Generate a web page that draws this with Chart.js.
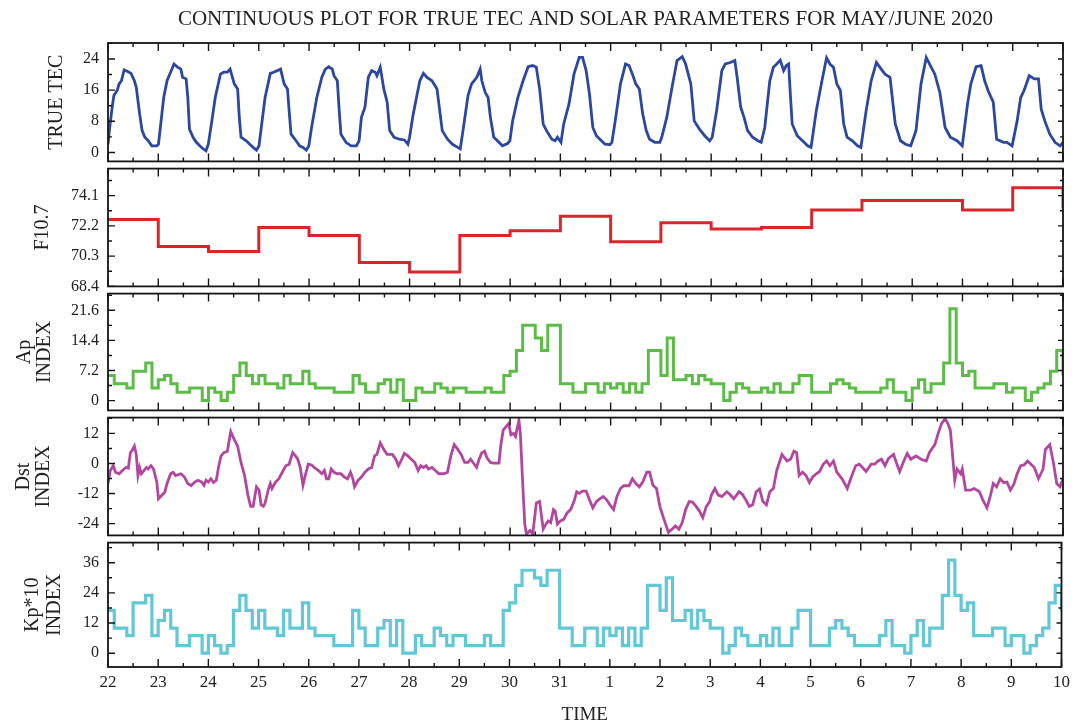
<!DOCTYPE html>
<html lang="en">
<head>
    <meta charset="UTF-8">
    <title>Continuous plot for TRUE TEC and solar parameters, May/June 2020</title>
    <!-- Chart.js -->
    <script src="https://cdn.jsdelivr.net/npm/chart.js"></script>
    <style>
        body {
            margin: 0;
            background: #fff;
        }

        /* five stacked panels, one canvas each, sharing the same time axis */
        .plot {
            position: relative;
            width: 1075px;
            height: 726px;
        }

        .plot canvas {
            position: absolute;
            left: 0;
        }
    </style>
</head>
<body>

<div class="plot">
    <canvas id="tecChart" width="1075" height="180" style="top:0"></canvas>
    <canvas id="f107Chart" width="1075" height="155" style="top:150px"></canvas>
    <canvas id="apChart" width="1075" height="154" style="top:275px"></canvas>
    <canvas id="dstChart" width="1075" height="155" style="top:399px"></canvas>
    <canvas id="kpChart" width="1075" height="202" style="top:524px"></canvas>
</div>

<script>
    // ---- data (time in hours since 22 May 00:00) ----
    const dayLabels = ['22', '23', '24', '25', '26', '27', '28', '29', '30', '31',
        '1', '2', '3', '4', '5', '6', '7', '8', '9', '10'];

    const tecHours = [
        0, 0.8, 2, 2.8, 4.4, 5.3, 6.4, 7.7, 9.4, 11, 12.6, 13.5, 14.3, 15.1, 16.3, 17.6, 19.2, 20.9, 23.3,
        24.1, 25, 26.6, 28.2, 29.9, 31.5, 33.2, 34.8, 35.6, 37.3, 38.1, 38.9, 40.6, 42.2, 43.8, 45.5, 46.8,
        47.9, 49.6, 51.2, 53.7, 55.3, 57, 58.3, 60.3, 61.9, 62.7, 63.5, 66, 67.7, 69.3, 70.9,
        72.1, 73.4, 75, 77.5, 79.1, 80.8, 82.4, 84.1, 85.7, 86.5, 87.4, 89.8, 91.5, 93.1, 94.7,
        95.9, 97.2, 99.7, 102.1, 103.8, 105.4, 107.1, 107.9, 109.5, 110.3, 111.2, 113.6, 116.1, 118.6,
        119.9, 121, 122.7, 124.3, 125.9, 127.6, 128.4, 130, 131.7, 133.3, 134.5, 136.6, 139.1, 141.5, 143.2,
        144, 145.6, 147.3, 148.9, 150.6, 152.2, 154.7, 157.1, 158.8, 159.6, 162.1, 164.5, 167,
        168.2, 169.5, 171.9, 173.6, 176.1, 177.7, 178.5, 180.1, 181.5, 182.6, 184.2, 186.7, 188.3, 190.8,
        191.9, 193.2, 195.7, 198.2, 200.6, 202.8, 204.5, 206.1, 207.8, 209.4, 211.9, 213.5, 214.6,
        216.3, 217.6, 220.1, 222.5, 225, 226.6, 228.3, 229.9, 231.5, 233.2, 235.6, 237.3, 239.7,
        240.6, 242.2, 244.7, 247.1, 248.8, 250.4, 252, 253.7, 255.3, 257, 258.6, 261.1, 263.5,
        264.4, 266.8, 269.3, 271.7, 274.2, 275.8, 278.3, 279.9, 282.4, 284.9, 287.3,
        288.5, 290.6, 293.1, 294.7, 297.2, 299.3, 300.4, 302.1, 303.7, 305.4, 307.8, 310.3, 311.9,
        313.6, 316, 317.7, 319.3, 321, 322.6, 323.9, 325, 325.9, 326.7, 329.1, 331.6, 334.1, 335.7,
        338.2, 340.6, 343.1, 344.7, 346.4, 348, 349.7, 351.3, 352.9, 355.4, 357.9, 359.5,
        362, 364.4, 366.9, 368.5, 371, 373.4, 375.9, 378.4, 380.8, 383.3,
        385.8, 388.2, 390.7, 392.3, 394.8, 397.2, 399.7, 402.2, 405.4, 407.9,
        410.4, 412, 414.5, 416.9, 418.6, 420.2, 422.7, 424.3, 427.6, 429.2, 431.7,
        434.1, 435.8, 437.4, 439.9, 442.3, 444.3, 445.6, 447.3, 449.7, 452.2, 454.6, 456
    ];
    const tecValues = [
        2.1, 6.4, 11.6, 14.6, 15.9, 17.6, 18.4, 21.2, 20.8, 20.3, 18.4, 16.7, 13.3, 9.9, 5.6, 3.9, 3.0, 1.7, 1.7,
        2.1, 6.4, 14.1, 18.4, 20.6, 22.7, 21.9, 21.4, 19.3, 18.9, 14.1, 6.0, 3.9, 2.6, 1.7, 0.9, 0.4,
        2.1, 8.1, 14.1, 20.1, 20.6, 20.6, 21.4, 17.6, 16.3, 9.0, 3.9, 3.0, 2.1, 1.3, 0.6,
        1.7, 7.3, 14.1, 20.3, 20.6, 21.0, 21.4, 17.6, 16.3, 10.7, 4.7, 3.0, 1.7, 1.3, 0.6,
        1.7, 6.4, 14.1, 19.3, 21.4, 22.0, 21.4, 19.7, 18.4, 11.6, 4.7, 2.6, 1.7, 1.7,
        3.0, 9.0, 11.6, 19.3, 21.0, 20.6, 19.7, 21.9, 16.3, 12.9, 5.6, 3.9, 3.4, 3.2, 2.1,
        3.9, 9.4, 14.1, 18.4, 20.3, 19.3, 18.4, 16.3, 9.0, 5.6, 3.4, 2.1, 1.3,
        0.9, 5.6, 14.6, 17.6, 19.3, 21.4, 18.4, 15.4, 14.1, 9.0, 3.9, 2.6, 1.7, 2.3,
        3.0, 8.1, 14.1, 18.4, 22.0, 22.3, 21.9, 16.3, 7.3, 5.6, 3.4, 3.0, 3.9,
        2.6, 7.3, 12.4, 20.1, 24.4, 24.4, 21.0, 15.0, 6.4, 4.3, 3.0, 2.1, 2.0,
        2.6, 8.1, 17.6, 22.7, 22.3, 20.1, 17.6, 16.3, 9.9, 5.6, 3.4, 2.6, 2.6,
        3.9, 9.0, 16.7, 23.6, 24.6, 22.7, 17.6, 8.1, 6.0, 4.3, 3.0,
        3.9, 10.7, 21.0, 22.7, 23.1, 23.6, 19.3, 11.6, 9.0, 5.6, 3.9, 3.0, 2.6,
        6.4, 18.4, 21.9, 22.7, 23.7, 21.0, 22.3, 22.7, 14.1, 7.3, 4.3, 3.0, 1.7, 1.3,
        10.7, 17.6, 24.3, 22.7, 21.9, 17.6, 15.9, 7.3, 3.9, 3.0, 1.7, 1.3,
        10.7, 18.4, 23.1, 21.9, 20.1, 19.3, 7.3, 3.0, 2.1, 1.7,
        5.6, 17.6, 24.4, 22.7, 20.1, 15.4, 6.4, 3.9, 3.0, 1.7,
        12.4, 17.6, 22.0, 22.3, 18.4, 15.9, 12.9, 3.4, 2.6, 2.6, 1.7,
        8.1, 14.1, 15.9, 19.7, 18.9, 18.9, 11.1, 8.1, 4.7, 2.6, 1.7, 2.6
    ];

    // F10.7: one value per day, plus the value reached at the right edge
    const f107Daily = [72.6, 70.9, 70.6, 72.1, 71.6, 69.9, 69.3, 71.6, 71.9, 72.8,
        71.2, 72.4, 72.0, 72.1, 73.2, 73.8, 73.8, 73.2, 74.6];
    const f107End = 73.3;

    // Ap and Kp*10: 3-hourly values (8 per day), plus the value at the right edge
    const apValues = [
        6, 4, 4, 3, 7, 7, 9, 3,
        5, 6, 4, 2, 2, 3, 3, 0,
        3, 2, 0, 2, 6, 9, 6, 4,
        6, 4, 4, 3, 6, 4, 4, 7,
        4, 3, 3, 3, 2, 2, 2, 6,
        4, 2, 2, 4, 5, 2, 5, 0,
        0, 3, 2, 2, 4, 3, 2, 3,
        3, 2, 2, 2, 3, 2, 2, 6,
        7, 12, 18, 18, 15, 12, 18, 18,
        4, 4, 2, 2, 4, 4, 2, 4,
        3, 4, 2, 4, 2, 4, 12, 12,
        6, 15, 5, 5, 6, 4, 6, 5,
        4, 4, 0, 2, 4, 3, 2, 2,
        3, 2, 4, 2, 2, 4, 6, 6,
        2, 2, 2, 4, 5, 4, 3, 2,
        2, 2, 2, 3, 5, 2, 2, 0,
        3, 5, 2, 4, 4, 9, 22, 9,
        6, 7, 3, 3, 3, 4, 4, 2,
        3, 3, 0, 2, 3, 4, 7, 12
    ];
    const apEnd = 6;

    const kpValues = [
        17, 10, 10, 7, 20, 20, 23, 7,
        13, 17, 10, 3, 3, 7, 7, 0,
        7, 3, 0, 3, 17, 23, 17, 10,
        17, 10, 10, 7, 17, 10, 10, 20,
        10, 7, 7, 7, 3, 3, 3, 17,
        10, 3, 3, 10, 13, 3, 13, 0,
        0, 7, 3, 3, 10, 7, 3, 7,
        7, 3, 3, 3, 7, 3, 3, 17,
        20, 27, 33, 33, 30, 27, 33, 33,
        10, 10, 3, 3, 10, 10, 3, 10,
        7, 10, 3, 10, 3, 10, 27, 27,
        17, 30, 13, 13, 17, 10, 17, 13,
        10, 10, 0, 3, 10, 7, 3, 3,
        7, 3, 10, 3, 3, 10, 17, 17,
        3, 3, 3, 10, 13, 10, 7, 3,
        3, 3, 3, 7, 13, 3, 3, 0,
        7, 13, 3, 10, 10, 23, 37, 23,
        17, 20, 7, 7, 7, 10, 10, 3,
        7, 7, 0, 3, 7, 10, 20, 27
    ];
    const kpEnd = 17;

    const dstHours = [
        0, 1.1, 2.5, 3.6, 5.3, 6.9, 8.5, 9.7, 10.7, 11.8, 12.6, 13.5, 14.3, 15.1, 15.9, 17.2, 18.4, 19.2, 20.5, 21.7, 22.5, 23.3,
        24.1, 25.8, 27.1, 28.2, 29.9, 31, 32.3, 34.8, 36.5, 38.1, 39.7, 41.4, 43, 44.7, 45.8, 46.8,
        47.9, 49.1, 50.4, 51.7, 52.9, 54, 55.3, 57, 58.6, 60.3, 61.9, 63.5, 65.2, 66.8, 68.1, 69.3, 70.9,
        72.1, 73.1, 74.2, 75, 76.7, 77.5, 78.3, 80, 81.6, 83.2, 84.9, 86.5, 87.4, 88.2, 89.5, 90.6, 91.8, 93.1, 94.4,
        95.6, 97.2, 98.9, 100.5, 102.1, 103.3, 104.3, 105.4, 106.6, 107.9, 109.5, 111.2, 112.8, 114.4, 115.8, 116.9, 117.7, 119.4,
        121, 122.7, 124.3, 125.9, 127.3, 128.4, 130, 131.7, 133.3, 135.8, 137.4, 138.7, 139.9, 141.5, 143.2,
        144.8, 146.5, 148.1, 149.3, 150.6, 151.9, 153, 154.7, 156.3, 158, 160.4, 162.1, 163.7, 165.3, 167,
        168.6, 170.3, 171.9, 173.2, 174.9, 176, 177.2, 178.5, 179.8, 180.9, 182.6, 184.2, 186.7, 187.5, 188.7, 190,
        191.3, 192.4, 193.6, 194.6, 195.2, 196.2, 196.9, 197.9, 199, 199.8, 201.5, 202.8, 203.9,
        204.5, 206.1, 207.8, 209.1, 210.2, 211.4, 212.7, 213.5, 214.6,
        216, 217.6, 219.2, 220.9, 222.5, 223.8, 225, 226.6, 228.3, 229.9, 231.5, 233.2, 234.8, 236.5, 238.1, 239.7,
        241.4, 243, 244.7, 246.3, 248.8, 250.4, 252, 253.7, 255.3, 257.3, 258.6, 260.2, 261.9, 263.5,
        265.2, 267.6, 269.3, 270.9, 272.6, 274.2, 275.8, 277.5, 279.1, 280.8, 282.4, 284, 285.7, 287.3,
        288.1, 289.8, 291.4, 293.1, 295.5, 297.2, 298.8, 301.3, 302.9, 304.5, 306.2, 307.8, 309.5, 311.1,
        312.7, 314.4, 316, 317.7, 319.3, 321.8, 324.2, 325.9, 327.5, 328.8, 330, 331.6, 333.3, 334.9,
        336.5, 338.2, 339.8, 341.5, 343.1, 344.7, 346.4, 348, 350.5, 353, 354.6, 357, 358.7,
        360.3, 362, 364.4, 366.1, 367.7, 369.3, 371, 372.6, 375.1, 376.4, 378, 380, 381.6, 383.3,
        385.8, 388.2, 390.7, 392.3, 394.8, 396.4, 398, 399.7, 401, 402.2, 403.3, 404.3, 405.4, 407.1, 407.9,
        409.5, 412, 413.6, 416.1, 417.7, 419.7, 421.4, 422.7, 424.3, 426, 427.6, 429.2, 430.9,
        432.5, 434.1, 435.8, 437.4, 439.1, 440.7, 442.3, 444.3, 446.5, 447.6, 449.7, 451.4, 453, 454.6, 456
    ];
    const dstValues = [
        -8.0, -2.8, -0.9, -3.5, -4.1, -2.8, -1.6, -1.9, 4.3, 5.6, 6.9, 3.6, -4.8, -1.6, -4.1, -2.8, -1.6, -2.2, -0.9, -2.2, -4.8, -7.4,
        -14.1, -12.6, -11.5, -8.0, -4.1, -3.5, -4.8, -4.1, -5.4, -8.0, -8.9, -7.4, -6.7, -7.4, -8.7, -6.7,
        -7.4, -6.1, -7.6, -6.7, -0.9, 3.0, 4.3, 4.9, 12.7, 9.5, 6.9, 0.4, -4.8, -12.6, -17.1, -17.1, -9.3,
        -10.6, -16.5, -17.1, -15.8, -10.0, -8.0, -10.0, -7.4, -6.1, -3.5, -0.9, -0.3, 2.3, 4.3, 3.0, 1.7, -1.6, -8.7, -4.1,
        -0.3, -0.6, -1.9, -2.8, -4.1, -2.8, -6.1, -6.1, -2.2, -3.5, -4.1, -4.1, -5.4, -6.1, -3.5, -6.1, -9.3, -6.7,
        -5.4, -3.5, -2.2, -1.6, 3.0, 3.6, 8.2, 5.6, 3.6, 3.6, 1.7, -0.9, 1.0, 4.0, 3.0,
        1.7, 0.4, -2.8, -0.9, -1.6, -0.9, -2.2, -1.6, -2.8, -4.1, -4.1, -3.5, 3.0, 7.5, 5.6,
        3.6, 0.4, 0.4, 1.7, -0.3, -1.6, 1.7, 4.3, 4.9, 2.3, 0.4, 0.1, 0.1, 6.9, 13.3, 14.6,
        15.9, 11.4, 12.0, 10.8, 13.3, 17.2, 12.0, -6.1, -24.2, -28.1, -26.8, -28.1, -20.3,
        -15.8, -15.2, -26.2, -24.2, -22.9, -23.6, -18.4, -19.0, -24.2,
        -22.9, -22.3, -19.7, -18.4, -15.2, -11.3, -11.9, -11.0, -11.0, -14.5, -17.7, -15.2, -14.1, -13.2, -14.5, -16.5,
        -18.4, -13.2, -10.0, -8.9, -8.9, -6.1, -8.0, -9.3, -7.4, -3.5, -3.5, -8.7, -10.0, -17.1,
        -21.6, -27.5, -26.2, -24.9, -26.2, -23.6, -18.4, -15.2, -15.4, -17.1, -19.0, -21.6, -17.1, -15.2,
        -12.6, -10.0, -12.6, -13.2, -11.3, -12.6, -14.1, -11.3, -12.3, -14.5, -17.1, -16.5, -11.3, -10.2,
        -15.2, -16.5, -11.3, -10.0, -2.8, 3.6, 1.0, 1.7, 4.9, 4.3, -4.8, -3.5, -4.8, -7.6,
        -5.4, -4.1, -3.2, -0.3, 1.0, -0.9, 1.0, -3.5, -6.1, -10.0, -6.1, -0.9, -0.3,
        -1.6, -3.2, -0.3, -0.3, 1.0, 1.7, -0.9, 1.9, 3.6, 0.4, -3.2, 1.0, 4.0, 1.7,
        3.0, 1.7, 1.0, 4.5, 7.5, 12.0, 15.9, 17.9, 15.9, 13.3, 3.0, -6.7, -2.2, -4.1, -2.2,
        -10.6, -10.6, -10.0, -11.3, -14.5, -17.7, -12.6, -8.0, -9.3, -6.1, -7.6, -7.4, -10.6,
        -8.4, -4.1, -0.9, -0.6, 1.0, -0.3, -1.6, -6.1, -2.2, 5.6, 7.5, 0.4, -8.0, -9.3, -6.1
    ];

    // tick labels of each panel
    const tecTicks = [0, 8, 16, 24];
    const f107Ticks = [68.4, 70.3, 72.2, 74.1];
    const apTicks = [0, 7.2, 14.4, 21.6];
    const dstTicks = [-24, -12, 0, 12];
    const kpTicks = [0, 12, 24, 36];

    // ---- helpers ----
    Chart.defaults.font.family = '"Liberation Serif", "Times New Roman", serif';
    Chart.defaults.color = '#222';

    const HOURS = 456;

    // pairs of hours and values -> {x, y}
    function points(hours, values) {
        return values.map((v, i) => ({ x: hours[i], y: v }));
    }

    // step series: one value per interval of `step` hours, last value at the right edge
    function steps(values, step, endValue) {
        const pts = values.map((v, i) => ({ x: i * step, y: v }));
        pts.push({ x: HOURS, y: endValue });
        return pts;
    }

    // minor ticks halfway between the labelled ones
    function minorTicks(major, min, max) {
        const step = major[1] - major[0];
        const out = [];
        for (let v = major[0] - step / 2; v <= max + 1e-9; v += step) {
            if (v >= min) out.push(v);
        }
        return out;
    }

    // box around each panel with inward ticks on all four sides
    const panelFrame = {
        id: 'panelFrame',
        afterDatasetsDraw(chart, args, opts) {
            const { ctx, chartArea: a } = chart;
            const x = chart.scales.x;
            const y = chart.scales.y;
            ctx.save();
            ctx.strokeStyle = '#151515';
            ctx.lineWidth = 1.4;
            ctx.beginPath();
            for (let h = 0; h <= HOURS; h += 12) {
                const px = x.getPixelForValue(h);
                const len = h % 24 === 0 ? 8 : 4;
                ctx.moveTo(px, a.bottom);
                ctx.lineTo(px, a.bottom - len);
                ctx.moveTo(px, a.top);
                ctx.lineTo(px, a.top + len);
            }
            opts.major.forEach(v => {
                const py = y.getPixelForValue(v);
                ctx.moveTo(a.left, py);
                ctx.lineTo(a.left + 7, py);
                ctx.moveTo(a.right, py);
                ctx.lineTo(a.right - 5, py);
            });
            opts.minor.forEach(v => {
                const py = y.getPixelForValue(v);
                ctx.moveTo(a.left, py);
                ctx.lineTo(a.left + 4, py);
                ctx.moveTo(a.right, py);
                ctx.lineTo(a.right - 3, py);
            });
            ctx.stroke();
            ctx.lineWidth = 1.8;
            ctx.strokeRect(a.left, a.top, a.right - a.left, a.bottom - a.top);
            ctx.restore();
        }
    };

    function makePanel(canvasId, cfg) {
        const xScale = cfg.bottom ? {
            type: 'linear',
            min: 0,
            max: HOURS,
            afterFit: s => { s.height = 59; },
            afterBuildTicks: s => { s.ticks = dayLabels.map((_, i) => ({ value: i * 24 })); },
            ticks: {
                callback: (v, i) => dayLabels[i],
                font: { size: 17 },
                padding: 5,
                maxRotation: 0,
                autoSkip: false
            },
            grid: { display: false, drawTicks: false },
            border: { display: false },
            title: { display: true, text: 'TIME', font: { size: 19 }, padding: { top: 0, bottom: 0 } }
        } : { type: 'linear', min: 0, max: HOURS, display: false };

        return new Chart(document.getElementById(canvasId), {
            type: 'line',
            data: {
                datasets: [{
                    data: cfg.data,
                    borderColor: cfg.color,
                    borderWidth: cfg.width,
                    stepped: cfg.stepped || false,
                    pointRadius: 0,
                    tension: 0,
                    fill: false
                }]
            },
            options: {
                responsive: false,
                animation: false,
                layout: { padding: { left: 0, right: 12, top: cfg.padTop, bottom: cfg.bottom ? 0 : 15 } },
                plugins: {
                    legend: { display: false },
                    tooltip: { enabled: false },
                    title: cfg.title || { display: false },
                    panelFrame: { major: cfg.ticks, minor: minorTicks(cfg.ticks, cfg.min, cfg.max) }
                },
                scales: {
                    x: xScale,
                    y: {
                        min: cfg.min,
                        max: cfg.max,
                        afterBuildTicks: s => { s.ticks = cfg.ticks.map(v => ({ value: v })); },
                        afterFit: s => { s.width = 108; },
                        grid: { display: false, drawTicks: false },
                        border: { display: false },
                        ticks: { padding: 9, font: { size: 16 }, callback: v => String(v) },
                        title: {
                            display: true,
                            text: cfg.label,
                            font: { size: 20, lineHeight: cfg.lineHeight },
                            padding: { top: cfg.titlePad, bottom: 0 }
                        }
                    }
                }
            },
            plugins: [panelFrame]
        });
    }

    makePanel('tecChart', {
        data: points(tecHours, tecValues), color: '#2c47a0', width: 2.8,
        min: -2.3, max: 28.1, ticks: tecTicks,
        label: 'TRUE TEC', lineHeight: 1.2, titlePad: 45,
        padTop: 0,
        title: {
            display: true,
            text: 'CONTINUOUS PLOT FOR TRUE TEC AND SOLAR PARAMETERS FOR MAY/JUNE 2020',
            fullSize: false,
            font: { size: 21, weight: 'normal' },
            color: '#222',
            padding: { top: 7, bottom: 10.8 }
        }
    });

    makePanel('f107Chart', {
        data: steps(f107Daily, 24, f107End), color: '#d7262d', width: 3, stepped: true,
        min: 68.4, max: 75.8, ticks: f107Ticks,
        label: 'F10.7', lineHeight: 1.2, titlePad: 31, padTop: 15
    });

    makePanel('apChart', {
        data: steps(apValues, 3, apEnd), color: '#5cbd46', width: 3, stepped: true,
        min: -2.35, max: 25.6, ticks: apTicks,
        label: ['Ap', 'INDEX'], lineHeight: 1.0, titlePad: 15, padTop: 15
    });

    makePanel('dstChart', {
        data: points(dstHours, dstValues), color: '#b3479f', width: 2.8,
        min: -28.7, max: 18.3, ticks: dstTicks,
        label: ['Dst', 'INDEX'], lineHeight: 1.0, titlePad: 14, padTop: 15
    });

    makePanel('kpChart', {
        data: steps(kpValues, 3, kpEnd), color: '#62c7d6', width: 3.2, stepped: true,
        min: -5.5, max: 44, ticks: kpTicks,
        label: ['Kp*10', 'INDEX'], lineHeight: 1.1, titlePad: 22, padTop: 15,
        bottom: true
    });
</script>
</body>
</html>
